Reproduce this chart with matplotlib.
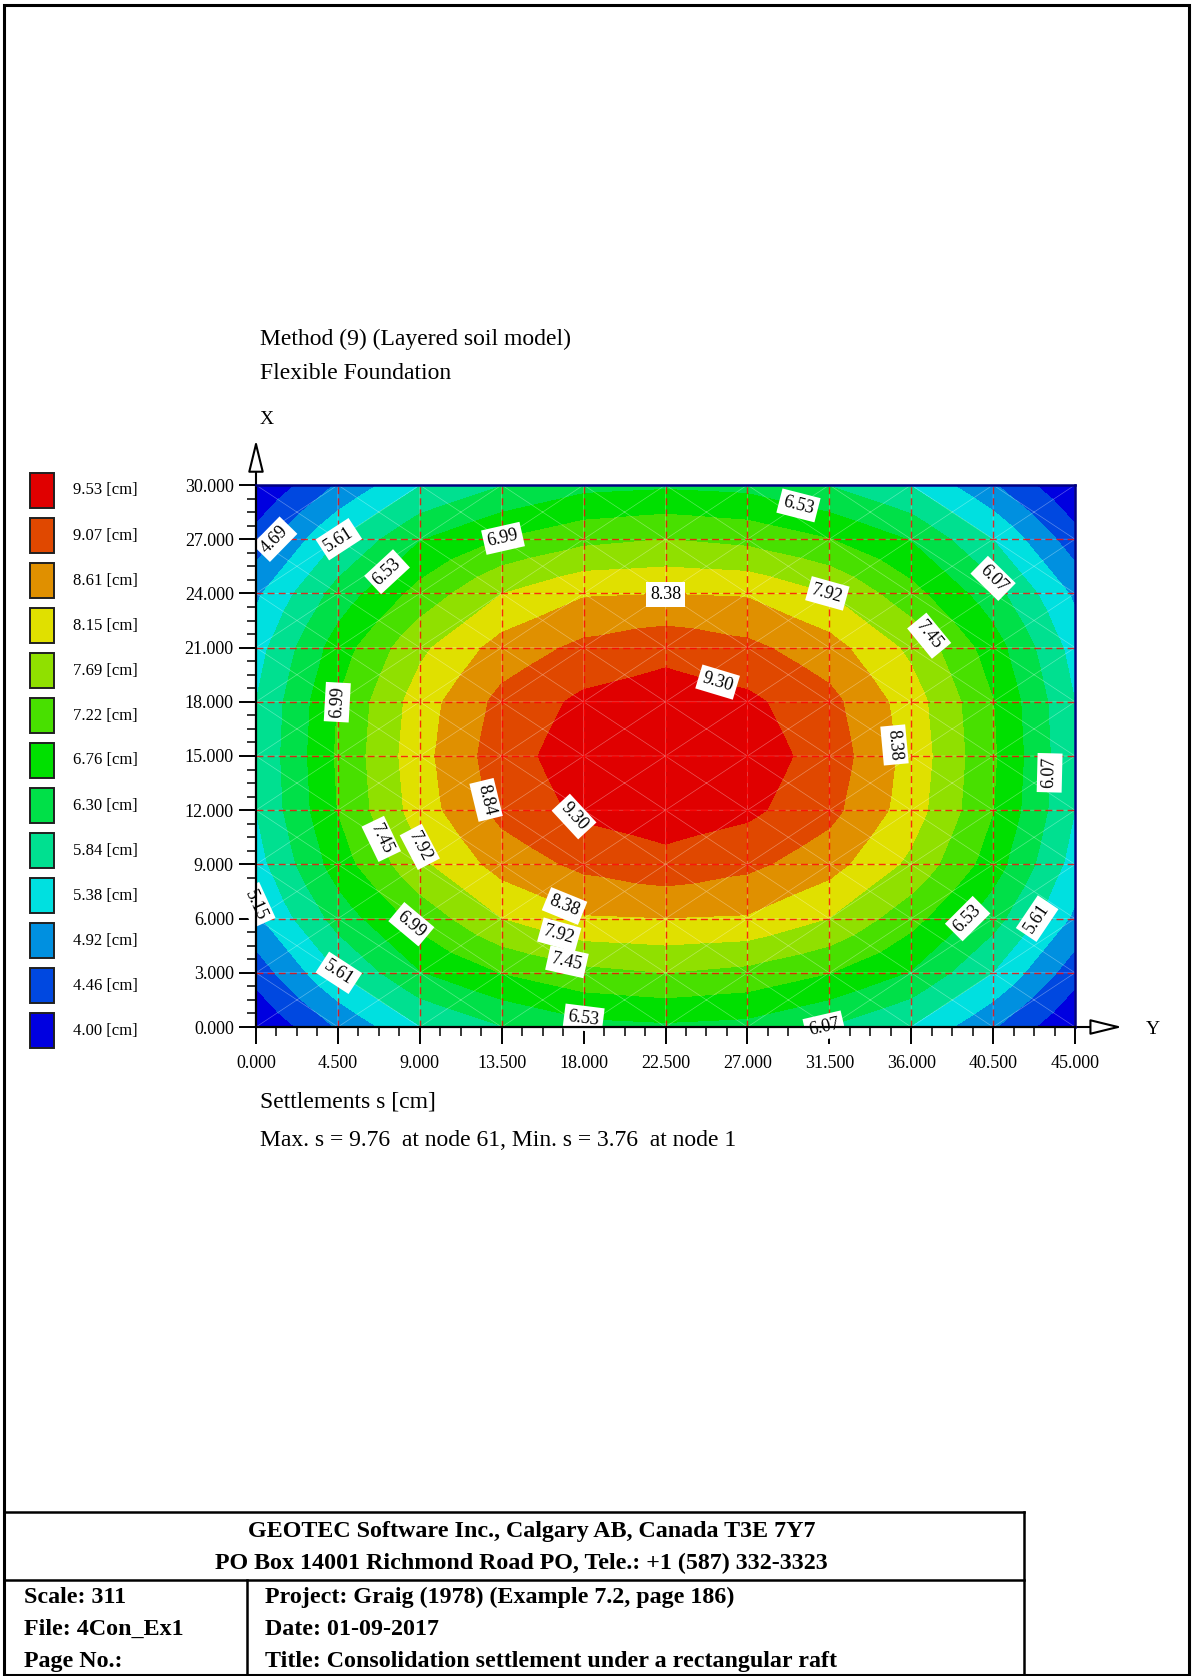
import numpy as np
import matplotlib
matplotlib.use('Agg')
import matplotlib.pyplot as plt
import matplotlib.tri as mtri
from matplotlib.patches import Rectangle
from matplotlib.lines import Line2D

plt.rcParams['font.family'] = ['Liberation Serif', 'DejaVu Serif']

# node coordinates of the raft grid [m]
y_nodes = [0.0, 4.5, 9.0, 13.5, 18.0, 22.5, 27.0, 31.5, 36.0, 40.5, 45.0]
x_nodes = [0.0, 3.0, 6.0, 9.0, 12.0, 15.0, 18.0, 21.0, 24.0, 27.0, 30.0]

# settlement at the nodes [cm], one row per x_nodes value
settlement = [
    [3.76, 4.74, 5.58, 6.05, 6.38, 6.45, 6.38, 6.05, 5.58, 4.74, 3.76],
    [4.42, 5.60, 6.50, 7.00, 7.32, 7.45, 7.32, 7.00, 6.50, 5.60, 4.42],
    [5.06, 6.25, 7.15, 7.91, 8.33, 8.37, 8.33, 7.91, 7.15, 6.25, 5.06],
    [5.42, 6.75, 7.81, 8.56, 8.95, 9.15, 8.95, 8.56, 7.81, 6.75, 5.42],
    [5.61, 7.00, 8.15, 8.98, 9.40, 9.55, 9.40, 8.98, 8.15, 7.00, 5.61],
    [5.65, 7.05, 8.22, 9.10, 9.55, 9.76, 9.55, 9.10, 8.22, 7.05, 5.65],
    [5.61, 7.00, 8.15, 8.98, 9.40, 9.55, 9.40, 8.98, 8.15, 7.00, 5.61],
    [5.42, 6.75, 7.81, 8.56, 8.95, 9.15, 8.95, 8.56, 7.81, 6.75, 5.42],
    [5.06, 6.25, 7.15, 7.91, 8.33, 8.37, 8.33, 7.91, 7.15, 6.25, 5.06],
    [4.42, 5.60, 6.50, 7.00, 7.32, 7.45, 7.32, 7.00, 6.50, 5.60, 4.42],
    [3.76, 4.74, 5.58, 6.05, 6.38, 6.45, 6.38, 6.05, 5.58, 4.74, 3.76],
]

# band boundaries and legend
band_edges = [3.76, 4.23, 4.69, 5.15, 5.61, 6.07, 6.53, 6.99, 7.45, 7.92, 8.38, 8.84, 9.30, 9.76]
legend_values = [9.53, 9.07, 8.61, 8.15, 7.69, 7.22, 6.76, 6.30, 5.84, 5.38, 4.92, 4.46, 4.00]
legend_colors = ['#e00000', '#e04800', '#e09000', '#e0e000', '#90e000', '#48e000', '#00e000',
                 '#00e048', '#00e090', '#00e0e0', '#0090e0', '#0048e0', '#0000e0']

# where the contour labels sit (Y, X)
label_spots = {
    4.69: [(0.8, 28.1)],
    5.15: [(0.1, 7.1)],
    5.61: [(4.9, 28.3), (5.8, 2.6), (40.3, 7.6)],
    6.07: [(40.8, 24.7), (43.1, 13.6), (30.2, 0.1)],
    6.53: [(8.2, 25.8), (29.6, 28.8), (38.7, 6.4), (18.3, 0.55)],
    6.99: [(15.05, 27.6), (4.45, 17.3), (8.7, 5.5)],
    7.45: [(36.4, 21.7), (7.1, 9.9), (16.3, 3.8)],
    7.92: [(31.3, 23.8), (9.3, 9.7), (17.25, 5.1)],
    8.38: [(22.5, 24.35), (34.9, 15.9), (16.6, 6.9)],
    8.84: [(12.5, 13.0)],
    9.30: [(25.9, 19.4), (17.5, 11.2)],
}

W, H = 1192, 1676


def fx(px):
    return px / W


def fy(py):
    return 1 - py / H


fig = plt.figure(figsize=(W / 100, H / 100), dpi=100)

# plot area
ax = fig.add_axes([fx(256), fy(1027), fx(1075) - fx(256), fy(485) - fy(1027)])
ax.set_xlim(0, 45)
ax.set_ylim(0, 30)

# mesh: every grid cell split in four triangles through its centre
S = np.array(settlement)
nr, nc = S.shape
pts_y, pts_x, vals = [], [], []
for i in range(nr):
    for j in range(nc):
        pts_y.append(y_nodes[j])
        pts_x.append(x_nodes[i])
        vals.append(S[i, j])
tris = []
for i in range(nr - 1):
    for j in range(nc - 1):
        a = i * nc + j
        b = a + 1
        c = a + nc + 1
        d = a + nc
        pts_y.append((y_nodes[j] + y_nodes[j + 1]) / 2)
        pts_x.append((x_nodes[i] + x_nodes[i + 1]) / 2)
        vals.append(S[i:i + 2, j:j + 2].mean())
        k = len(vals) - 1
        tris += [[a, b, k], [b, c, k], [c, d, k], [d, a, k]]
tri = mtri.Triangulation(pts_y, pts_x, tris)
vals = np.array(vals)

ax.tricontourf(tri, vals, levels=band_edges, colors=legend_colors[::-1], zorder=1)
ax.triplot(tri, color='white', lw=0.5, alpha=0.35, zorder=2)

for y in y_nodes[1:-1]:
    ax.axvline(y, color='#ff0000', lw=1.0, ls=(0, (5, 3)), alpha=0.8, zorder=3)
for x in x_nodes[1:-1]:
    ax.axhline(x, color='#ff0000', lw=1.0, ls=(0, (5, 3)), alpha=0.8, zorder=3)

# contour labels: snap each spot to its contour and turn the text along it
cs = ax.tricontour(tri, vals, levels=band_edges, colors='k', linewidths=0, zorder=4)
to_px = ax.transData
for lvl, spots in label_spots.items():
    segs = cs.allsegs[band_edges.index(lvl)]
    for sy, sx in spots:
        target = to_px.transform((sy, sx))
        best = None
        for seg in segs:
            if len(seg) < 2:
                continue
            p = to_px.transform(seg)
            dist = np.hypot(p[:, 0] - target[0], p[:, 1] - target[1])
            i = int(np.argmin(dist))
            if best is None or dist[i] < best[0]:
                best = (dist[i], seg, p, i)
        _, seg, p, i = best
        i0, i1 = max(i - 2, 0), min(i + 2, len(p) - 1)
        ang = np.degrees(np.arctan2(p[i1, 1] - p[i0, 1], p[i1, 0] - p[i0, 0]))
        if ang > 90:
            ang -= 180
        if ang < -90:
            ang += 180
        ax.text(seg[i, 0], seg[i, 1], f'{lvl:.2f}', fontsize=13, rotation=ang,
                rotation_mode='anchor', ha='center', va='center', zorder=6, clip_on=False,
                bbox=dict(boxstyle='square,pad=0.22', fc='white', ec='none'))

# axes and ticks
ax.set_xticks(y_nodes)
ax.set_xticklabels([f'{v:.3f}' for v in y_nodes])
ax.set_yticks(x_nodes)
ax.set_yticklabels([f'{v:.3f}' for v in x_nodes])
ax.set_xticks(np.arange(0, 45.01, 1.125), minor=True)
ax.set_yticks(np.arange(0, 30.01, 0.75), minor=True)
ax.tick_params(which='major', direction='out', length=12, width=1.4, labelsize=13)
ax.tick_params(which='minor', direction='out', length=6.5, width=1.1)
ax.tick_params(axis='x', which='major', pad=8)
ax.tick_params(axis='y', which='major', pad=4)
for side in ['left', 'bottom']:
    ax.spines[side].set_linewidth(1.6)
    ax.spines[side].set_color('black')
for side in ['top', 'right']:
    ax.spines[side].set_linewidth(1.8)
    ax.spines[side].set_color('#000080')
for sp in ax.spines.values():
    sp.set_zorder(7)

arrow = dict(arrowstyle='-|>,head_length=0.9,head_width=0.22', fc='white', ec='black',
             lw=1.5, mutation_scale=22, shrinkA=0, shrinkB=0)
ax.annotate('', xy=(0, 32.5), xytext=(0, 30), arrowprops=arrow, annotation_clip=False)
ax.annotate('', xy=(47.6, 0), xytext=(45, 0), arrowprops=arrow, annotation_clip=False)

# texts around the plot
fig.text(fx(260), fy(339), 'Method (9) (Layered soil model)', fontsize=17, va='center')
fig.text(fx(260), fy(373), 'Flexible Foundation', fontsize=17, va='center')
fig.text(fx(260), fy(420), 'X', fontsize=14, va='center')
fig.text(fx(1146), fy(1029), 'Y', fontsize=14, va='center')
fig.text(fx(260), fy(1102), 'Settlements s [cm]', fontsize=17, va='center')
fig.text(fx(260), fy(1141), 'Max. s = 9.76  at node 61, Min. s = 3.76  at node 1',
         fontsize=17, va='center')

# legend boxes
for k, (v, c) in enumerate(zip(legend_values, legend_colors)):
    top = 473 + 45 * k
    fig.add_artist(Rectangle((fx(30), fy(top + 35)), fx(24), 35 / H, transform=fig.transFigure,
                             fc=c, ec='#202020', lw=1.4))
    fig.text(fx(73), fy(top + 17.5), f'{v:.2f} [cm]', fontsize=12, va='center')

# page border and title block
fig.add_artist(Rectangle((fx(4), fy(1675)), fx(1185), 1670 / H, transform=fig.transFigure,
                         fill=False, ec='black', lw=2.2))


def hline(y, x0, x1, lw=1.8):
    fig.add_artist(Line2D([fx(x0), fx(x1)], [fy(y), fy(y)], color='black', lw=lw,
                          transform=fig.transFigure))


def vline(x, y0, y1, lw=1.8):
    fig.add_artist(Line2D([fx(x), fx(x)], [fy(y0), fy(y1)], color='black', lw=lw,
                          transform=fig.transFigure))


hline(1512, 4, 1024)
hline(1580, 4, 1024)
vline(1024, 1512, 1676)
vline(247, 1580, 1676)

bold = dict(fontsize=17.3, fontweight='bold', va='center')
fig.text(fx(532), fy(1531), 'GEOTEC Software Inc., Calgary AB, Canada T3E 7Y7', ha='center', **bold)
fig.text(fx(521), fy(1563), 'PO Box 14001 Richmond Road PO, Tele.: +1 (587) 332-3323', ha='center', **bold)
fig.text(fx(24), fy(1597), 'Scale: 311', **bold)
fig.text(fx(24), fy(1629), 'File: 4Con_Ex1', **bold)
fig.text(fx(24), fy(1661), 'Page No.:', **bold)
fig.text(fx(265), fy(1597), 'Project: Graig (1978) (Example 7.2, page 186)', **bold)
fig.text(fx(265), fy(1629), 'Date: 01-09-2017', **bold)
fig.text(fx(265), fy(1661), 'Title: Consolidation settlement under a rectangular raft', **bold)

fig.savefig('out.png', dpi=100)
